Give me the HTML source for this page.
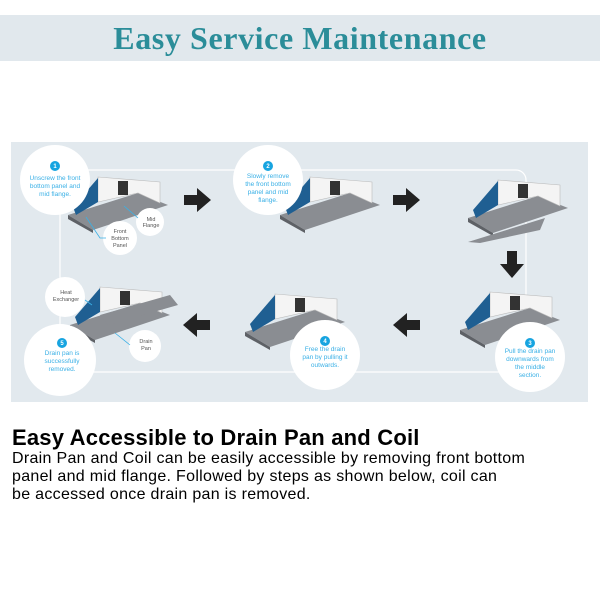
<!DOCTYPE html>
<html><head><style>
body{margin:0;width:600px;height:600px;background:#fff;position:relative;overflow:hidden;font-family:"Liberation Sans",sans-serif}
.hdr{position:absolute;left:0;top:15px;width:600px;height:46px;background:#e1e8ed}
.hdr div{text-align:center;font-family:"Liberation Serif",serif;font-weight:bold;color:#2b8d99;font-size:32px;line-height:46px;letter-spacing:0.6px}
.txt{position:absolute;left:12px;top:426px;color:#000}
.txt h1{margin:0;font-size:22px;font-weight:bold;line-height:24px;letter-spacing:0.2px}
.txt p{margin:0;font-size:16px;line-height:18px;letter-spacing:0.3px}
</style></head><body>
<div class="hdr"><div>Easy Service Maintenance</div></div>
<svg style="position:absolute;left:0;top:0" width="600" height="600" font-family="Liberation Sans, sans-serif">
<defs>
<g id="u">
<polygon points="0,40 70,18 100,30 25,55" fill="#8a8d92"/>
<polygon points="0,40 25,55 25,58 0,44" fill="#5e6166"/>
<polygon points="30,2 92,7 92,28 70,18 30,27" fill="#f4f4f4" stroke="#bbb" stroke-width="0.6"/>
<polygon points="5,32 30,3 30,27 8,40" fill="#1f5f92"/>
<rect x="50" y="6" width="10" height="14" fill="#333"/>
</g>
</defs>
<rect x="11" y="142" width="577" height="260" fill="#e2e9ee"/>
<rect x="60" y="170" width="466" height="202" rx="10" fill="none" stroke="#fff" stroke-width="1.2"/>
<use href="#u" x="68" y="175"/>
<use href="#u" x="280" y="175"/>
<use href="#u" x="468" y="178"/>
<polygon points="468,242 545,218 540,230 480,243" fill="#8a8d92"/>
<use href="#u" x="460" y="290"/>
<use href="#u" x="245" y="292"/>
<use href="#u" x="70" y="285"/>
<polygon points="100,315 170,295 178,305 108,325" fill="#8a8d92"/>
<g fill="#222">
<polygon points="184,195 197,195 197,188 211,200 197,212 197,205 184,205"/>
<polygon points="393,195 406,195 406,188 420,200 406,212 406,205 393,205"/>
<polygon points="507,251 517,251 517,264 524,264 512,278 500,264 507,264"/>
<polygon points="420,320 407,320 407,313 393,325 407,337 407,330 420,330"/>
<polygon points="210,320 197,320 197,313 183,325 197,337 197,330 210,330"/>
</g>
<g fill="#fff">
<circle cx="55" cy="180" r="35"/><circle cx="268" cy="180" r="35"/>
<circle cx="530" cy="357" r="35"/><circle cx="325" cy="355" r="35"/>
<circle cx="60" cy="360" r="36"/>
<circle cx="150" cy="222" r="14"/><circle cx="120" cy="238" r="17"/>
<circle cx="65" cy="297" r="20"/><circle cx="145" cy="346" r="16"/>
</g>
<g fill="#17a4e0"><circle cx="55" cy="166" r="5"/><circle cx="268" cy="166" r="5"/><circle cx="530" cy="343" r="5"/><circle cx="325" cy="341" r="5"/><circle cx="62" cy="343" r="5"/></g>
<g fill="#fff" font-size="6" font-weight="bold" text-anchor="middle"><text x="55" y="168">1</text><text x="268" y="168">2</text><text x="530" y="345">3</text><text x="325" y="343">4</text><text x="62" y="345">5</text></g>
<g fill="#3ab0e6" font-size="6.5" text-anchor="middle">
<text x="55" y="180">Unscrew the front</text><text x="55" y="188">bottom panel and</text><text x="55" y="196">mid flange.</text>
<text x="268" y="178">Slowly remove</text><text x="268" y="186">the front bottom</text><text x="268" y="194">panel and mid</text><text x="268" y="202">flange.</text>
<text x="530" y="353">Pull the drain pan</text><text x="530" y="361">downwards from</text><text x="530" y="369">the middle</text><text x="530" y="377">section.</text>
<text x="325" y="351">Free the drain</text><text x="325" y="359">pan by pulling it</text><text x="325" y="367">outwards.</text>
<text x="62" y="355">Drain pan is</text><text x="62" y="363">successfully</text><text x="62" y="371">removed.</text>
</g>
<g fill="#555" font-size="5.5" text-anchor="middle">
<text x="151" y="221">Mid</text><text x="151" y="227">Flange</text>
<text x="120" y="233">Front</text><text x="120" y="240">Bottom</text><text x="120" y="247">Panel</text>
<text x="66" y="294">Heat</text><text x="66" y="301">Exchanger</text>
<text x="146" y="343">Drain</text><text x="146" y="350">Pan</text>
</g>
<g stroke="#3ab0e6" stroke-width="0.8" fill="none">
<path d="M124,206 L138,218"/><path d="M86,217 L100,238 L106,238"/><path d="M85,300 L92,305"/><path d="M115,333 L130,345"/>
</g>
</svg>
<div class="txt"><h1>Easy Accessible to Drain Pan and Coil</h1>
<p>Drain Pan and Coil can be easily accessible by removing front bottom<br>panel and mid flange. Followed by steps as shown below, coil can<br>be accessed once drain pan is removed.</p></div>
</body></html>
